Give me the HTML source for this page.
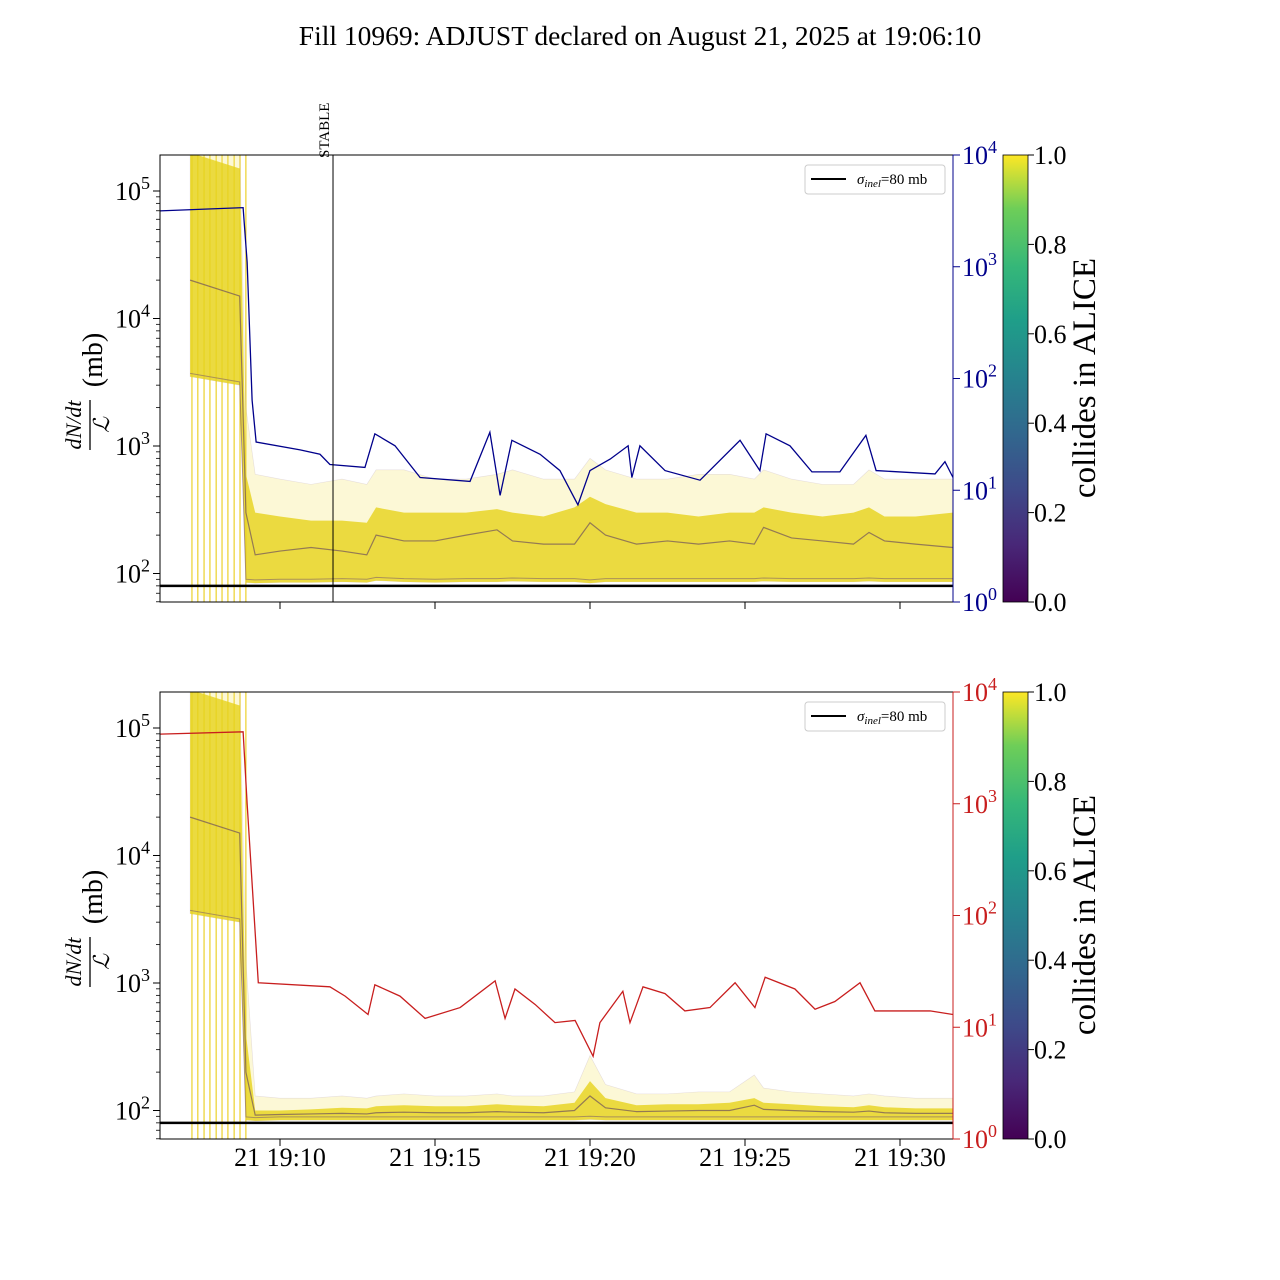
<!DOCTYPE html>
<html><head><meta charset="utf-8"><style>
body{margin:0;background:#fff}
svg{display:block;font-family:"Liberation Serif",serif}
</style></head><body>
<svg id="c" width="1280" height="1280" viewBox="0 0 1280 1280">
<defs>
<linearGradient id="vir" x1="0" y1="1" x2="0" y2="0">
<stop offset="0" stop-color="#440154"/><stop offset="0.13" stop-color="#482878"/><stop offset="0.25" stop-color="#3e4989"/><stop offset="0.38" stop-color="#31688e"/><stop offset="0.5" stop-color="#26828e"/><stop offset="0.63" stop-color="#1f9e89"/><stop offset="0.75" stop-color="#35b779"/><stop offset="0.88" stop-color="#6ece58"/><stop offset="1" stop-color="#fde725"/>
</linearGradient>
<clipPath id="clipTop"><rect x="160" y="155" width="793" height="447"/></clipPath>
<clipPath id="clipBot"><rect x="160" y="692" width="793" height="447"/></clipPath>
</defs>
<text x="640" y="45" text-anchor="middle" font-size="27.5">Fill 10969: ADJUST declared on August 21, 2025 at 19:06:10</text>
</svg>
<script>
// ---- data (minutes after 19:00) ----
const blueT=[6.13,8.81,8.94,9.10,9.23,10.65,11.29,11.61,12.74,13.06,13.71,14.52,16.13,16.77,17.10,17.48,18.39,19.03,19.61,20.0,20.65,21.23,21.35,21.61,22.42,23.55,24.84,25.48,25.68,26.45,27.16,28.06,28.90,29.23,31.13,31.45,31.71];
const blueV=[3160,3380,1100,64,27,23,21,17,16,32,25,13,12,33,9,28,21,15,7.4,15,19,25,13,25,15,12.3,28,15,32,25,14.6,14.6,31,15,14,18,13];
const redT=[6.13,8.81,8.94,9.3,11.61,12.1,12.84,13.06,13.87,14.68,15.81,16.94,17.26,17.58,18.23,18.87,19.52,20.10,20.32,21.06,21.29,21.71,22.42,23.06,23.87,24.68,25.32,25.65,26.61,27.26,27.90,28.71,29.19,30.97,31.71];
const redV=[4200,4400,1000,25,23,19,13,24,19,12,15,26,12,22,16,11,11.5,5.5,11,21,11,23,20,14,15,25,15,28,22,14.5,17,25,14,14,13];
const bandT=[7.1,8.7,8.9,9.2,10,11,12,12.8,13.1,14,15,16,17,17.5,18.5,19.5,20,20.5,21.5,22.5,23.5,24.5,25.3,25.6,26.5,27.5,28.5,29,29.5,30.5,31.7];
const topHigh=[200000,200000,2000,600,550,500,550,500,650,650,550,550,600,650,550,550,800,650,550,550,600,600,550,650,550,500,500,650,550,550,550];
const topCore=[200000,150000,600,300,280,260,260,250,330,300,300,300,320,300,280,330,400,350,300,300,280,300,300,330,300,280,300,330,280,280,300];
const topMed=[20000,15000,300,140,150,160,150,140,200,180,180,200,220,180,170,170,250,200,170,180,170,180,170,230,190,180,170,210,180,170,160];
const topLow=[3500,3000,85,84,85,85,86,85,88,86,85,86,86,87,86,86,84,86,86,86,86,86,86,87,86,86,86,87,86,86,86];
const botHigh=[200000,200000,1500,130,125,125,130,125,130,135,130,130,135,130,130,140,270,160,135,135,140,140,190,150,140,135,130,135,130,125,125];
const botCore=[200000,150000,400,100,100,102,105,104,108,110,108,108,112,110,108,115,170,125,110,112,112,115,125,115,112,108,106,110,106,104,104];
const botMed=[20000,15000,200,92,93,94,95,94,96,97,96,96,98,97,96,100,130,105,98,99,100,100,110,102,100,98,97,99,96,95,95];
const botLow=[3500,3000,84,83,84,84,84,84,84,84,84,84,84,84,84,84,85,84,84,84,84,84,84,84,84,84,84,84,84,84,84];
const vlinesT=[7.16,7.35,7.55,7.74,7.94,8.13,8.32,8.52,8.71,8.90];
const xTickT=[10,15,20,25,30];
const xTickLabels=["21 19:10","21 19:15","21 19:20","21 19:25","21 19:30"];
const leftExp=[2,3,4,5];
const rightExp=[0,1,2,3,4];
const cbTicks=[0,0.2,0.4,0.6,0.8,1.0];
const sigma=80;
const stableT=11.71;

const NS="http://www.w3.org/2000/svg";
const svg=document.getElementById('c');
function mk(tag,attrs,parent){const e=document.createElementNS(NS,tag);for(const k in attrs)e.setAttribute(k,attrs[k]);(parent||svg).appendChild(e);return e;}
const xs=t=>280+(t-10)*31;
const yL=(v,o)=>191-(Math.log10(v)-5)*127.5+o;
const yR=(v,o)=>602-Math.log10(v)*111.75+o;

function panel(o,clip,lineT,lineV,lineCol,H,C,M,L,showX,name){
  const g=mk('g',{'clip-path':'url(#'+clip+')'});
  
  
  vlinesT.forEach(t=>{const l=mk('line',{x1:xs(t),x2:xs(t),y1:155+o,y2:602+o,stroke:'#e8c800','stroke-width':1},g);
    });
  const poly=(A,B)=>A.map((v,i)=>xs(bandT[i])+','+yL(v,o)).concat(B.map((v,i)=>xs(bandT[i])+','+yL(v,o)).reverse()).join(' ');
  let p=mk('polygon',{points:poly(H,L),fill:'#f3e45a','fill-opacity':0.25,stroke:'#8a6fa0','stroke-opacity':0.2,'stroke-width':0.6},g);
  
  p=mk('polygon',{points:poly(C,L),fill:'#e6d21a','fill-opacity':0.8},g);
  
  p=mk('polyline',{points:M.map((v,i)=>xs(bandT[i])+','+yL(v,o)).join(' '),fill:'none',stroke:'#5a3a60','stroke-width':1.2,'stroke-opacity':0.6},g);
  
  p=mk('polyline',{points:L.map((v,i)=>xs(bandT[i])+','+yL(v*1.06,o)).join(' '),fill:'none',stroke:'#6b4a70','stroke-width':1,'stroke-opacity':0.5},g);
  
  const sy=yL(sigma,o);
  p=mk('line',{x1:160,x2:953,y1:sy,y2:sy,stroke:'#000','stroke-width':2.5},g);
  
  p=mk('polyline',{points:lineT.map((t,i)=>xs(t)+','+yR(lineV[i],o)).join(' '),fill:'none',stroke:lineCol,'stroke-width':1.3},g);
  
  p=mk('rect',{x:160,y:155+o,width:793,height:447,fill:'none',stroke:'#000','stroke-width':1});
  
  leftExp.forEach(e=>{const y=yL(Math.pow(10,e),o);
    mk('line',{x1:153,x2:160,y1:y,y2:y,stroke:'#000'});
    const t=mk('text',{x:115,y:y+9,'font-size':26,'text-anchor':'start'});
    t.innerHTML='10<tspan dy="-11" font-size="18">'+e+'</tspan>';
    
    for(let m=2;m<10;m++){const v=m*Math.pow(10,e);const yy=yL(v,o);if(yy>155+o&&yy<602+o)mk('line',{x1:156,x2:160,y1:yy,y2:yy,stroke:'#000','stroke-width':0.8});}
    if(e===2)for(let m=6;m<10;m++){const yy=yL(m*10,o);if(yy<602+o)mk('line',{x1:156,x2:160,y1:yy,y2:yy,stroke:'#000','stroke-width':0.8});}
  });
  rightExp.forEach(e=>{const y=yR(Math.pow(10,e),o);
    mk('line',{x1:953,x2:960,y1:y,y2:y,stroke:lineCol});
    const t=mk('text',{x:962,y:y+9,'font-size':26,fill:lineCol});
    t.innerHTML='10<tspan dy="-11" font-size="18">'+e+'</tspan>';
    
  });
  mk('line',{x1:953,x2:953,y1:155+o,y2:602+o,stroke:lineCol,'stroke-width':1});
  xTickT.forEach((t,i)=>{const x=xs(t);mk('line',{x1:x,x2:x,y1:602+o,y2:609+o,stroke:'#000'});
    if(showX){const tx=mk('text',{x:x,y:1166,'font-size':26,'text-anchor':'middle'});tx.textContent=xTickLabels[i];
      }});
  const yl=mk('g',{transform:'translate(95,'+(380+o)+') rotate(-90)'});
  
  let t=mk('text',{x:-45,y:-14,'font-size':22,'font-style':'italic','text-anchor':'middle'},yl);t.textContent='dN/dt';
  mk('line',{x1:-70,x2:-20,y1:-5,y2:-5,stroke:'#000','stroke-width':1.3},yl);
  t=mk('text',{x:-45,y:14,'font-size':22,'font-style':'italic','text-anchor':'middle'},yl);t.textContent='ℒ';
  t=mk('text',{x:20,y:7,'font-size':28,'text-anchor':'middle'},yl);t.textContent='(mb)';
  const lg=mk('g',{});
  
  mk('rect',{x:805,y:165+o,width:140,height:29,rx:3,fill:'#fff',stroke:'#ccc'},lg);
  mk('line',{x1:811,x2:846,y1:179+o,y2:179+o,stroke:'#000','stroke-width':2},lg);
  t=mk('text',{x:857,y:184+o,'font-size':15},lg);
  t.innerHTML='<tspan font-style="italic">σ</tspan><tspan font-size="11" dy="3" font-style="italic">inel</tspan><tspan dy="-3">=80 mb</tspan>';
  const cb=mk('rect',{x:1003,y:155+o,width:25,height:447,fill:'url(#vir)',stroke:'#000','stroke-width':0.8});
  
  cbTicks.forEach(v=>{const y=602+o-v*447;mk('line',{x1:1028,x2:1034,y1:y,y2:y,stroke:'#000'});
    const tt=mk('text',{x:1034,y:y+9,'font-size':26});tt.textContent=v.toFixed(1);
    });
  t=mk('text',{x:0,y:0,'font-size':33,'text-anchor':'middle',transform:'translate(1095,'+(378+o)+') rotate(-90)'});
  t.textContent='collides in ALICE';
}
panel(0,'clipTop',blueT,blueV,'#00008b',topHigh,topCore,topMed,topLow,false,'top');
panel(537,'clipBot',redT,redV,'#c81e1e',botHigh,botCore,botMed,botLow,true,'bottom');
const sx=xs(stableT);
let s=mk('line',{x1:sx,x2:sx,y1:155,y2:602,stroke:'#000','stroke-width':1});

s=mk('text',{x:0,y:0,'font-size':15,transform:'translate('+(sx-4)+',158) rotate(-90)'});
s.textContent='STABLE';
</script>
</body></html>
